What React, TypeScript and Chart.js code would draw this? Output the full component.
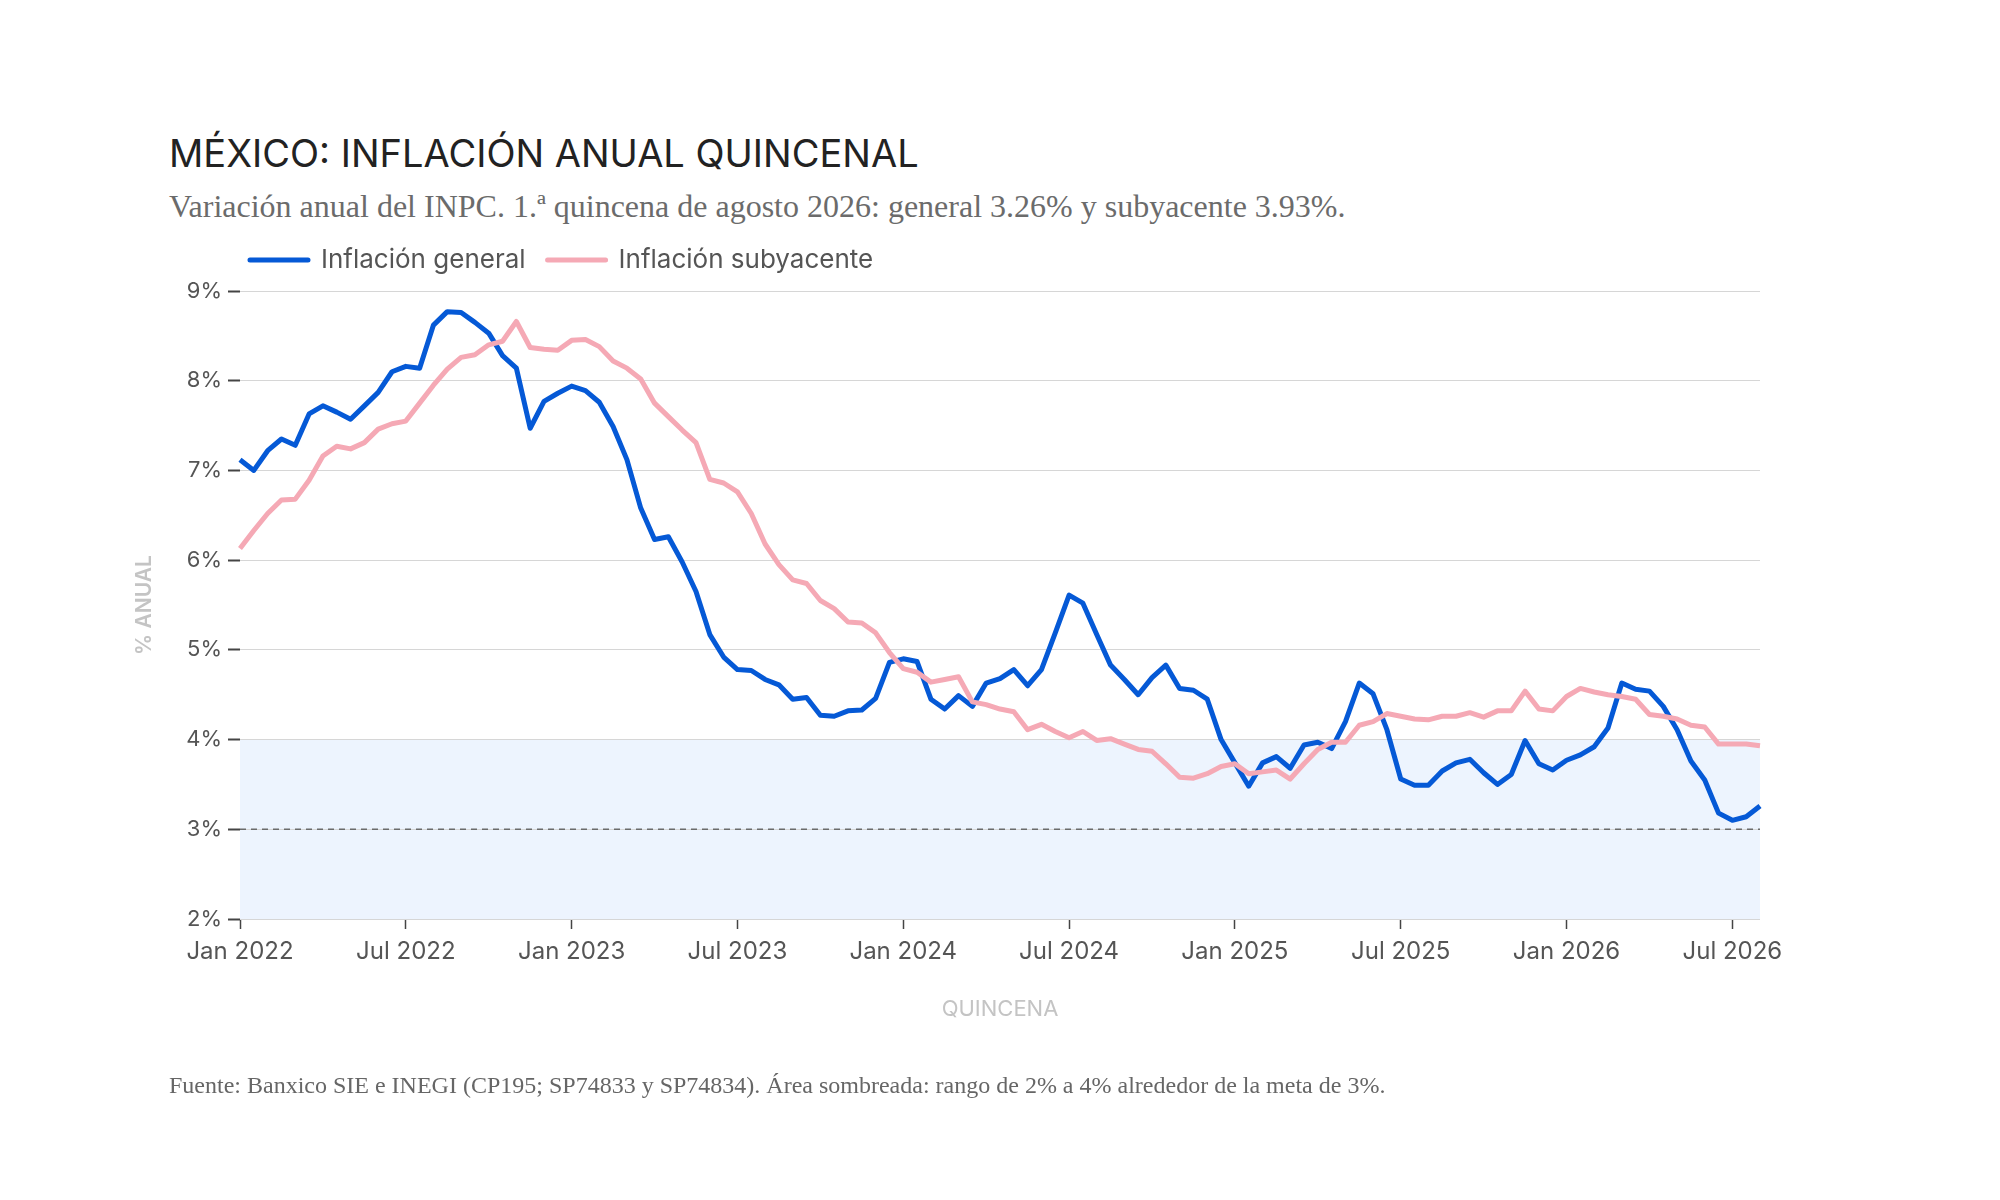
import { useEffect, useRef } from "react";
import { Chart, registerables, type Plugin } from "chart.js";

Chart.register(...registerables);

// Quincenas: Jan 2022 (1Q) to Aug 2026 (1Q)
const YEARS = [2022, 2023, 2024, 2025, 2026];
const MONTHS = ["Jan", "Feb", "Mar", "Apr", "May", "Jun", "Jul", "Aug", "Sep", "Oct", "Nov", "Dec"];
const LAST_YEAR = 2026;
const LAST_MONTH = 7; // Aug, first half only

const QUINCENAS: string[] = [];
for (const year of YEARS) {
  for (let m = 0; m < 12; m++) {
    for (const q of [1, 2]) {
      if (year === LAST_YEAR && (m > LAST_MONTH || (m === LAST_MONTH && q === 2))) continue;
      QUINCENAS.push(`${MONTHS[m]} ${year} ${q}Q`);
    }
  }
}

// Inflación general (% anual)
const GENERAL = [
  7.12, 7.0, 7.22, 7.35, 7.28, 7.63, 7.72, 7.65, 7.57, 7.72,
  7.87, 8.1, 8.16, 8.14, 8.62, 8.77, 8.76, 8.65, 8.53, 8.28,
  8.14, 7.47, 7.77, 7.86, 7.94, 7.89, 7.76, 7.49, 7.12, 6.58,
  6.23, 6.26, 5.98, 5.65, 5.17, 4.92, 4.78, 4.77, 4.67, 4.61,
  4.45, 4.47, 4.27, 4.26, 4.32, 4.33, 4.46, 4.86, 4.9, 4.87,
  4.45, 4.34, 4.49, 4.37, 4.63, 4.68, 4.78, 4.6, 4.78, 5.19,
  5.61, 5.52, 5.17, 4.83, 4.67, 4.5, 4.69, 4.83, 4.57, 4.55,
  4.45, 4.0, 3.74, 3.48, 3.74, 3.81, 3.68, 3.94, 3.97, 3.9,
  4.2, 4.63, 4.51, 4.11, 3.56, 3.49, 3.49, 3.65, 3.74, 3.78,
  3.63, 3.5, 3.61, 3.99, 3.73, 3.66, 3.77, 3.83, 3.92, 4.13,
  4.63, 4.56, 4.54, 4.37, 4.11, 3.76, 3.55, 3.18, 3.1, 3.14,
  3.26,
];

// Inflación subyacente (% anual)
const CORE = [
  6.13, 6.33, 6.52, 6.67, 6.68, 6.89, 7.16, 7.27, 7.24, 7.31,
  7.46, 7.52, 7.55, 7.75, 7.95, 8.13, 8.26, 8.29, 8.4, 8.44,
  8.66, 8.37, 8.35, 8.34, 8.45, 8.46, 8.38, 8.22, 8.14, 8.02,
  7.75, 7.6, 7.45, 7.31, 6.9, 6.86, 6.76, 6.52, 6.18, 5.95,
  5.78, 5.74, 5.55, 5.46, 5.31, 5.3, 5.19, 4.97, 4.79, 4.75,
  4.64, 4.67, 4.7, 4.42, 4.39, 4.34, 4.31, 4.11, 4.17, 4.09,
  4.02, 4.09, 3.99, 4.01, 3.95, 3.89, 3.87, 3.73, 3.58, 3.57,
  3.62, 3.7, 3.73, 3.62, 3.64, 3.66, 3.56, 3.73, 3.89, 3.97,
  3.97, 4.16, 4.2, 4.29, 4.26, 4.23, 4.22, 4.26, 4.26, 4.3,
  4.25, 4.32, 4.32, 4.54, 4.34, 4.32, 4.48, 4.57, 4.53, 4.5,
  4.48, 4.45, 4.28, 4.26, 4.23, 4.16, 4.14, 3.95, 3.95, 3.95,
  3.93,
];

const BAND_LOW = 2;
const BAND_HIGH = 4;
const TARGET = 3;
const Y_MIN = 2;
const Y_MAX = 9;

const BLUE = "#0559d6";
const PINK = "#f5a9b5";
const SANS = "Inter, 'Open Sans', sans-serif";
const SERIF = "'Liberation Serif', 'Times New Roman', serif";

const bandPlugin: Plugin<"line"> = {
  id: "targetBand",
  afterLayout(chart) {
    // legend sits a bit inside the plot's left edge and a bit higher
    const legend = chart.legend;
    if (legend) {
      const dx = chart.chartArea.left + 10 - 22 - legend.left;
      legend.left += dx;
      legend.right += dx;
      legend.top -= 8;
      legend.bottom -= 8;
    }
  },
  beforeDraw(chart) {
    const { ctx, chartArea, scales } = chart;
    const top = scales.y.getPixelForValue(BAND_HIGH);
    const bottom = scales.y.getPixelForValue(BAND_LOW);
    ctx.save();
    ctx.fillStyle = "#edf4fe";
    ctx.fillRect(chartArea.left, top, chartArea.right - chartArea.left, bottom - top);
    ctx.restore();
  },
  beforeDatasetsDraw(chart) {
    const { ctx, chartArea, scales } = chart;
    const y = scales.y.getPixelForValue(TARGET);
    ctx.save();
    ctx.strokeStyle = "#6b6b6b";
    ctx.lineWidth = 1.5;
    ctx.setLineDash([6, 5]);
    ctx.beginPath();
    ctx.moveTo(chartArea.left, y);
    ctx.lineTo(chartArea.right, y);
    ctx.stroke();
    ctx.restore();
  },
};

export default function App() {
  const canvasRef = useRef<HTMLCanvasElement>(null);

  useEffect(() => {
    if (!canvasRef.current) return;
    Chart.defaults.font.family = SANS;

    const chart = new Chart(canvasRef.current, {
      type: "line",
      data: {
        labels: QUINCENAS,
        datasets: [
          {
            label: "Inflación general",
            data: GENERAL,
            borderColor: BLUE,
            backgroundColor: BLUE,
            borderWidth: 5,
            pointRadius: 0,
            tension: 0,
            borderJoinStyle: "round",
            order: 1,
          },
          {
            label: "Inflación subyacente",
            data: CORE,
            borderColor: PINK,
            backgroundColor: PINK,
            borderWidth: 5,
            pointRadius: 0,
            tension: 0,
            borderJoinStyle: "round",
            order: 0,
          },
        ],
      },
      options: {
        responsive: true,
        maintainAspectRatio: false,
        animation: false,
        events: [],
        layout: { padding: { left: 128, right: 240, top: 233, bottom: 177 } },
        plugins: {
          legend: {
            position: "top",
            align: "start",
            labels: {
              boxWidth: 58,
              boxHeight: 0,
              padding: 22,
              color: "#555",
              font: { family: SANS, size: 26 },
              sort: (a, b) => (a.datasetIndex ?? 0) - (b.datasetIndex ?? 0),
            },
          },
          tooltip: { enabled: false },
        },
        scales: {
          x: {
            type: "category",
            offset: false,
            border: { display: false },
            grid: {
              display: true,
              drawOnChartArea: false,
              drawTicks: true,
              tickLength: 10,
              tickWidth: 1.5,
              tickColor: (ctx) => (ctx.index % 12 === 0 ? "#444" : "rgba(0,0,0,0)"),
            },
            ticks: {
              autoSkip: false,
              maxRotation: 0,
              minRotation: 0,
              padding: 8,
              color: "#555",
              font: { family: SANS, size: 24 },
              callback: (_v, i) => (i % 12 === 0 ? QUINCENAS[i].split(" ").slice(0, 2).join(" ") : ""),
            },
            title: {
              display: true,
              text: "QUINCENA",
              color: "#c4c4c4",
              font: { family: SANS, size: 22 },
              padding: { top: 30, bottom: 0 },
            },
            afterFit: (scale) => {
              scale.height = 104;
            },
          },
          y: {
            min: Y_MIN,
            max: Y_MAX,
            border: { display: false },
            grid: {
              color: "#d6d6d6",
              lineWidth: 1,
              tickColor: "#444",
              tickLength: 12,
              tickWidth: 2,
            },
            ticks: {
              stepSize: 1,
              padding: 6,
              color: "#555",
              font: { family: SANS, size: 22 },
              callback: (v) => `${v}%`,
            },
            title: {
              display: true,
              text: "% ANUAL",
              color: "#c4c4c4",
              font: { family: SANS, size: 21, weight: 600 },
              padding: { top: 4, bottom: 0 },
            },
            afterFit: (scale) => {
              scale.width = 112;
            },
          },
        },
      },
      plugins: [bandPlugin],
    });

    return () => chart.destroy();
  }, []);

  return (
    <div style={{ position: "absolute", left: 0, top: 0, width: 2000, height: 1200, background: "#fff" }}>
      <div
        style={{
          position: "absolute",
          left: 169,
          top: 134,
          fontFamily: SANS,
          fontSize: 38,
          lineHeight: "38px",
          color: "#222",
          whiteSpace: "nowrap",
        }}
      >
        MÉXICO: INFLACIÓN ANUAL QUINCENAL
      </div>
      <div
        style={{
          position: "absolute",
          left: 169,
          top: 190,
          fontFamily: SERIF,
          fontSize: 32,
          lineHeight: "32px",
          color: "#6b6b6b",
          whiteSpace: "nowrap",
        }}
      >
        Variación anual del INPC. 1.ª quincena de agosto 2026: general 3.26% y subyacente 3.93%.
      </div>
      <div style={{ position: "absolute", left: 0, top: 0, width: 2000, height: 1200 }}>
        <canvas ref={canvasRef} />
      </div>
      <div
        style={{
          position: "absolute",
          left: 169,
          top: 1073,
          fontFamily: SERIF,
          fontSize: 24,
          lineHeight: "24px",
          color: "#666",
          whiteSpace: "nowrap",
        }}
      >
        Fuente: Banxico SIE e INEGI (CP195; SP74833 y SP74834). Área sombreada: rango de 2% a 4% alrededor de la meta de 3%.
      </div>
    </div>
  );
}
